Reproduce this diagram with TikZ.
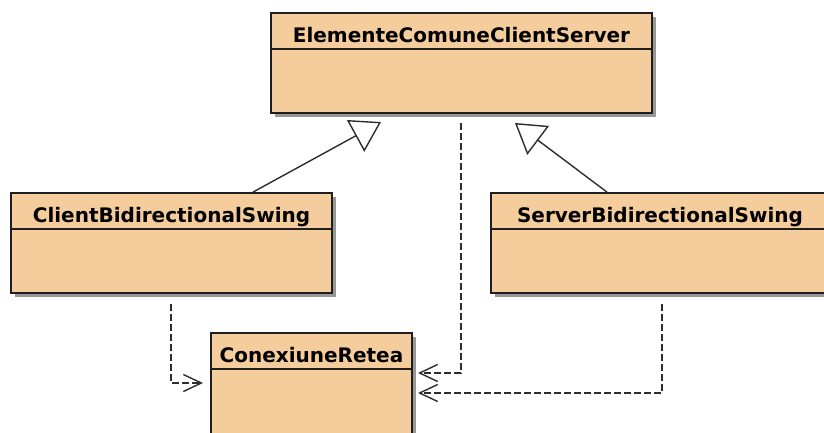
\documentclass[tikz,border=0pt]{standalone}
\usepackage{fontspec}
\setmainfont{DejaVu Sans}
\usepackage{xcolor}
\usepackage{tikz}
\usetikzlibrary{arrows.meta,shadows}

\definecolor{boxfill}{RGB}{245,204,156}
\definecolor{boxline}{RGB}{30,30,30}
\definecolor{linkcol}{RGB}{45,45,45}

\begin{document}
\begin{tikzpicture}[x=1pt, y=1pt,
  classbox/.style={draw=boxline, line width=1.8pt, fill=boxfill, inner sep=0pt,
    minimum height=100pt, drop shadow={shadow xshift=4pt, shadow yshift=-4pt, fill=black!80}},
  classname/.style={anchor=base, font=\fontsize{20}{24}\selectfont\bfseries, inner sep=0pt},
  inherit/.style={draw=linkcol, line width=1.4pt, -{Triangle[open, length=29pt, width=36pt]}},
  depend/.style={draw=linkcol, line width=1.4pt, dash pattern=on 7pt off 3pt,
    -{Straight Barb[length=18pt, width=17pt]}}]
\useasboundingbox (0,0) rectangle (824,432);
\clip (0,0) rectangle (824,432);
\fill[white] (0,0) rectangle (824,432);

\node[classbox, minimum width=381pt] (common) at (461.5,369) {};
\node[classbox, minimum width=321pt] (client) at (171.5,189) {};
\node[classbox, minimum width=338pt] (server) at (660,189) {};
\node[classbox, minimum width=201pt, minimum height=140pt] (retea) at (311.5,29) {};

\foreach \c in {common,client,server,retea}
  \draw[boxline, line width=1.4pt] ([yshift=-37pt]\c.north west) -- ([yshift=-37pt]\c.north east);

\node[classname] (commonname) at ([yshift=-30pt]common.north) {ElementeComuneClientServer};
\node[classname] (clientname) at ([yshift=-30pt]client.north) {ClientBidirectionalSwing};
\node[classname] (servername) at ([yshift=-30pt]server.north) {ServerBidirectionalSwing};
\node[classname] (reteaname) at ([yshift=-30pt]retea.north) {ConexiuneRetea};

\coordinate (clienttip) at (381,310);
\coordinate (servertip) at (515,309);
\coordinate (retea1) at (418,59);
\coordinate (retea2) at (418,39);
\coordinate (retea3) at (203,49);

\draw[inherit] ([xshift=81.5pt]client.north) -- (clienttip);
\draw[inherit] ([xshift=-53pt]server.north) -- (servertip);

\draw[depend] ([xshift=-0.5pt, yshift=-9pt]common.south) |- (retea1);
\draw[depend] ([xshift=2pt, yshift=-10pt]server.south) |- (retea2);
\draw[depend] ([xshift=-0.5pt, yshift=-10pt]client.south) |- (retea3);
\end{tikzpicture}
\end{document}
